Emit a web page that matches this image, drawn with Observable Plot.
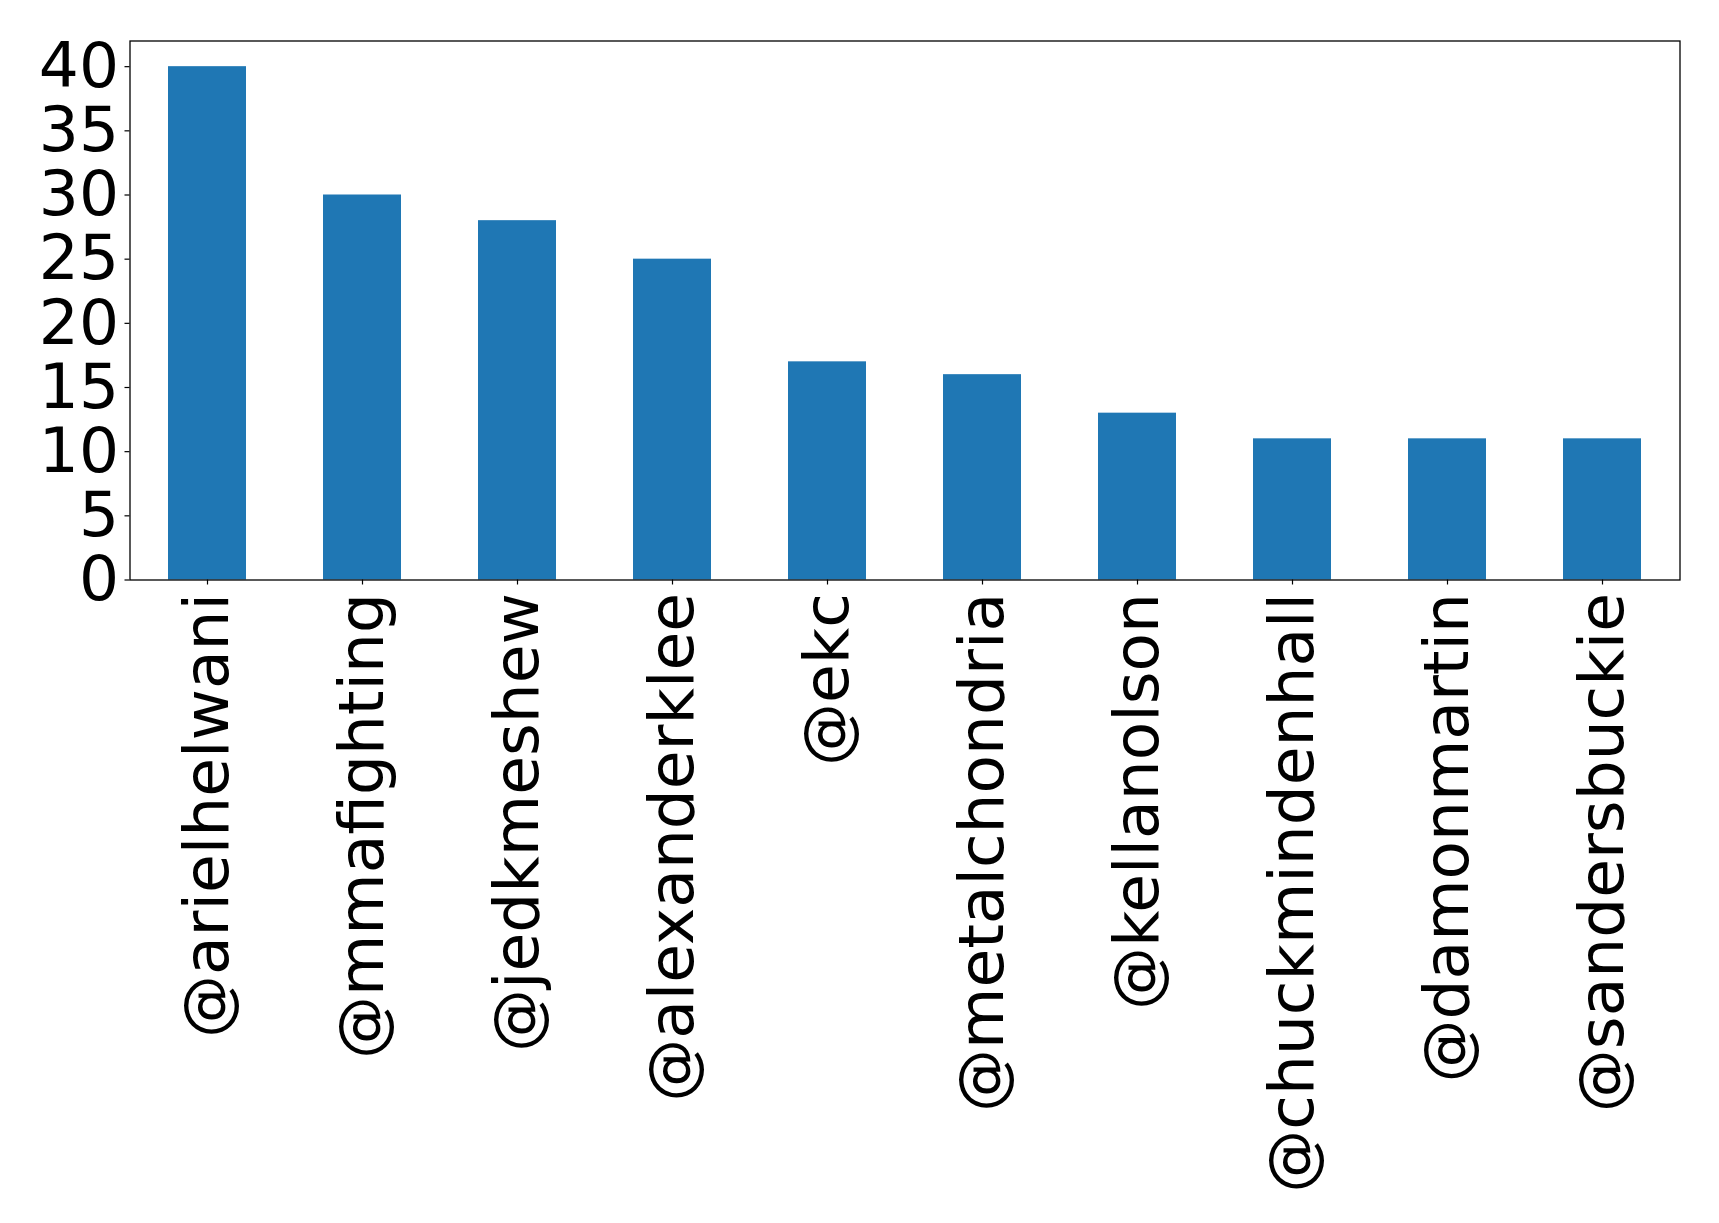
<!DOCTYPE html>
<html>
<head>
<meta charset="utf-8">
<script src="https://cdn.jsdelivr.net/npm/d3@7"></script>
<script src="https://cdn.jsdelivr.net/npm/@observablehq/plot@0.6"></script>
<style>
  html, body { margin: 0; padding: 0; background: #fff; }
  #chart { width: 1719px; height: 1223px; }
</style>
</head>
<body>
<div id="chart"></div>
<script>
const categories = ["@arielhelwani", "@mmafighting", "@jedkmeshew", "@alexanderklee", "@ekc", "@metalchondria", "@kellanolson", "@chuckmindenhall", "@damonmartin", "@sandersbuckie"];
const counts = [40, 30, 28, 25, 17, 16, 13, 11, 11, 11];
const yTicks = [0, 5, 10, 15, 20, 25, 30, 35, 40];

const data = categories.map((c, i) => ({name: c, count: counts[i]}));

const chart = Plot.plot({
  width: 1719,
  height: 1223,
  marginLeft: 129.5,
  marginTop: 40.5,
  marginRight: 39.5,
  marginBottom: 643.5,
  style: {fontFamily: "DejaVu Sans", background: "#fff", color: "#000"},
  x: {domain: categories, paddingInner: 0.5, paddingOuter: 0.25, align: 0.5, label: null},
  y: {domain: [0, 42], label: null},
  marks: [
    Plot.barY(data, {x: "name", y: "count", fill: "#1f77b4"}),
    Plot.axisY({ticks: yTicks, tickSize: 5, tickPadding: 6, fontSize: 63, label: null, stroke: "#000", strokeWidth: 1.2}),
    Plot.axisX({tickSize: 5, tickPadding: 8, tickRotate: -90, fontSize: 63, label: null, stroke: "#000", strokeWidth: 1.2}),
    Plot.frame({stroke: "#000", strokeWidth: 1.3})
  ]
});
document.getElementById("chart").appendChild(chart);
</script>
</body>
</html>
